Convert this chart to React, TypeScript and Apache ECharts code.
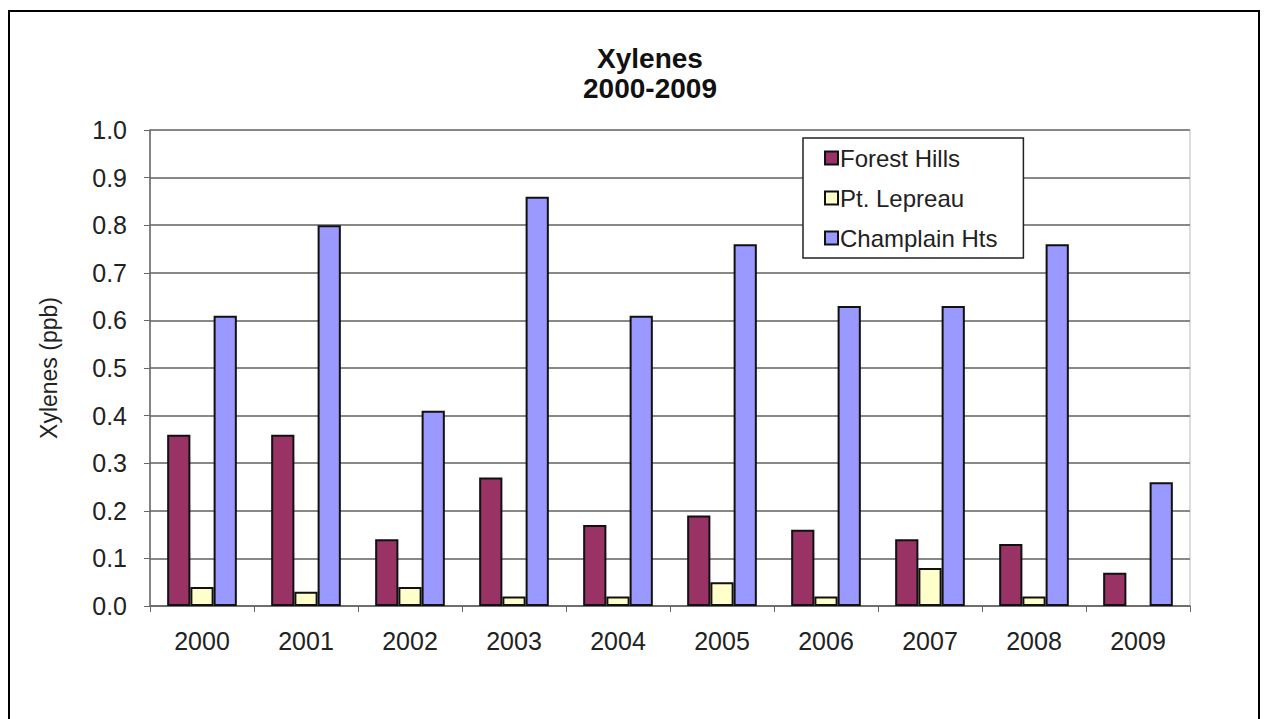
import React, { useEffect, useRef } from "react";
import * as echarts from "echarts";

const years = ["2000", "2001", "2002", "2003", "2004", "2005", "2006", "2007", "2008", "2009"];
const forestHills = [0.36, 0.36, 0.14, 0.27, 0.17, 0.19, 0.16, 0.14, 0.13, 0.07];
const ptLepreau = [0.04, 0.03, 0.04, 0.02, 0.02, 0.05, 0.02, 0.08, 0.02, null];
const champlainHts = [0.61, 0.8, 0.41, 0.86, 0.61, 0.76, 0.63, 0.63, 0.76, 0.26];
const yTicks = ["0.0", "0.1", "0.2", "0.3", "0.4", "0.5", "0.6", "0.7", "0.8", "0.9", "1.0"];

const FONT = "'Liberation Sans', Arial, sans-serif";

export default function App() {
  const ref = useRef<HTMLDivElement>(null);
  useEffect(() => {
    if (!ref.current) return;
    const chart = echarts.init(ref.current, undefined, { renderer: "svg" });
    const barStyle = (color: string) => ({ color, borderColor: "#111", borderWidth: 2 });
    chart.setOption({
      animation: false,
      backgroundColor: "#fff",
      textStyle: { fontFamily: FONT },
      title: {
        text: "Xylenes\n2000-2009",
        left: 645,
        textAlign: "center",
        top: 38,
        textStyle: { fontSize: 28, fontWeight: "bold", color: "#111", lineHeight: 30, fontFamily: FONT },
      },
      legend: {
        orient: "vertical",
        left: 803,
        top: 138,
        padding: [8, 26, 8, 21],
        itemGap: 16,
        itemWidth: 13,
        itemHeight: 13,
        borderColor: "#222",
        borderWidth: 1.5,
        backgroundColor: "#fff",
        textStyle: { fontSize: 24, color: "#222", fontFamily: FONT, padding: [0, 0, 0, -3] },
        data: [
          { name: "Forest Hills", icon: "rect" },
          { name: "Pt. Lepreau", icon: "rect" },
          { name: "Champlain Hts", icon: "rect" },
        ],
      },
      graphic: [
        {
          type: "rect",
          shape: { x: 9, y: 11, width: 1250, height: 720 },
          style: { fill: "none", stroke: "#000", lineWidth: 2 },
          silent: true,
        },
      ],
      grid: {
        left: 150,
        top: 130,
        right: 79,
        bottom: 113,
        containLabel: false,
        show: true,
        borderColor: "#bbb",
        borderWidth: 1,
      },
      xAxis: {
        type: "category",
        data: years,
        axisLine: { show: true, lineStyle: { color: "#666", width: 1.5 } },
        axisTick: { show: true, alignWithLabel: false, length: 6, lineStyle: { color: "#666" } },
        axisLabel: { fontSize: 25, color: "#222", margin: 22, fontFamily: FONT },
      },
      yAxis: {
        type: "value",
        min: 0,
        max: 1,
        interval: 0.1,
        name: "Xylenes (ppb)",
        nameLocation: "middle",
        nameGap: 90,
        nameRotate: 90,
        nameTextStyle: { fontSize: 23, color: "#222", fontFamily: FONT },
        axisLine: { show: true, lineStyle: { color: "#666", width: 1.5 } },
        axisTick: { show: true, length: 6, lineStyle: { color: "#666" } },
        axisLabel: {
          fontSize: 25,
          color: "#222",
          margin: 23,
          fontFamily: FONT,
          formatter: (v: number) => yTicks[Math.round(v * 10)] ?? v.toFixed(1),
        },
        splitLine: { show: true, lineStyle: { color: "#888", width: 2 } },
      },
      series: [
        {
          name: "Forest Hills",
          type: "bar",
          data: forestHills,
          barGap: "0%",
          barCategoryGap: "33%",
          itemStyle: barStyle("#993366"),
        },
        { name: "Pt. Lepreau", type: "bar", data: ptLepreau, itemStyle: barStyle("#FFFFCC") },
        { name: "Champlain Hts", type: "bar", data: champlainHts, itemStyle: barStyle("#9999FF") },
      ],
    });
    return () => chart.dispose();
  }, []);
  return (
    <div
      ref={ref}
      style={{ position: "absolute", left: 0, top: 0, width: 1269, height: 719 }}
    />
  );
}
